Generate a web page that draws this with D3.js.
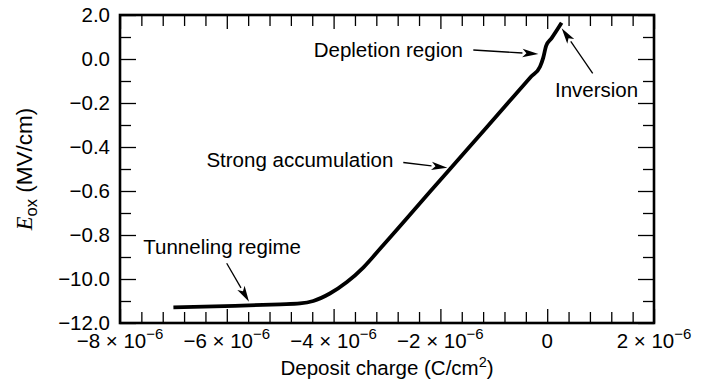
<!DOCTYPE html>
<html>
<head>
<meta charset="utf-8">
<script src="https://cdn.jsdelivr.net/npm/d3@7"></script>
<style>
  body { margin: 0; background: #fff; }
  svg { display: block; }
  text { font-family: "Liberation Sans", Arial, Helvetica, sans-serif; fill: #000; }
</style>
</head>
<body>
<svg id="chart" width="702" height="391"></svg>
<script>
// Oxide field versus deposited corona charge
const depositCharge = [-7.0, -5.85, -5.0, -4.63, -4.38, -4.07, -3.75, -3.44, -3.13, -2.82, -2.2, -1.45, -0.7, -0.3, -0.135, -0.075, -0.02, 0.08, 0.27].map(v => v * 1e-6);
const oxideField    = [-11.29, -11.22, -11.15, -11.11, -11.0, -10.66, -10.14, -9.47, -8.63, -7.77, -6.05, -3.98, -1.9, -0.8, -0.35, 0.05, 0.6, 0.94, 1.65];

// Axis ticks and their printed labels
const yTickValues = [2, 0, -2, -4, -6, -8, -10, -12];
const yTickLabels = ["2.0", "0.0", "\u22120.2", "\u22120.4", "\u22120.6", "\u22120.8", "\u221210.0", "\u221212.0"];
const xTickValues = [-8e-6, -6e-6, -4e-6, -2e-6, 0, 2e-6];
const xTickMantissa = ["\u22128", "\u22126", "\u22124", "\u22122", "0", "2"];
const xTickExponent = ["\u22126", "\u22126", "\u22126", "\u22126", "", "\u22126"];

// Annotations: label anchor, arrow tail and arrow tip in data units
const noteText   = ["Tunneling regime", "Strong accumulation", "Depletion region", "Inversion"];
const noteAnchor = ["start", "end", "end", "start"];
const noteLabelX = [-7.564e-6, -2.882e-6, -1.577e-6, 0.146e-6];
const noteLabelY = [-8.864, -4.895, 0.091, -1.727];
const noteTailX  = [-6.002e-6, -2.695e-6, -1.384e-6, 0.852e-6];
const noteTailY  = [-9.286, -4.705, 0.409, -0.65];
const noteTipX   = [-5.584e-6, -1.869e-6, -0.165e-6, 0.271e-6];
const noteTipY   = [-11.03, -4.94, 0.227, 1.395];

const svg = d3.select("#chart");
const plot = { left: 120, right: 654, top: 15, bottom: 323 };

const x = d3.scaleLinear().domain([-8e-6, 2e-6]).range([plot.left, plot.right]);
const y = d3.scaleLinear().domain([-12, 2]).range([plot.bottom, plot.top]);

const xMinor = d3.range(-8, 2.001, 0.4).map(v => +(v * 1e-6).toPrecision(6))
  .filter(v => !xTickValues.some(m => Math.abs(m - v) < 1e-9));
const yMinor = d3.range(-11, 2, 2);

function styleTicks(g) {
  g.select(".domain").remove();
  g.selectAll(".tick line").attr("stroke", "#000").attr("stroke-width", 1.3);
  g.selectAll(".tick text").remove();
}

// Ticks on all four sides, pointing inward
svg.append("g").attr("transform", `translate(0,${plot.bottom})`)
  .call(d3.axisBottom(x).tickValues(xTickValues).tickSize(-14)).call(styleTicks);
svg.append("g").attr("transform", `translate(0,${plot.bottom})`)
  .call(d3.axisBottom(x).tickValues(xMinor).tickSize(-11)).call(styleTicks);
svg.append("g").attr("transform", `translate(0,${plot.top})`)
  .call(d3.axisTop(x).tickValues(xTickValues).tickSize(-14)).call(styleTicks);
svg.append("g").attr("transform", `translate(0,${plot.top})`)
  .call(d3.axisTop(x).tickValues(xMinor).tickSize(-11)).call(styleTicks);
svg.append("g").attr("transform", `translate(${plot.left},0)`)
  .call(d3.axisLeft(y).tickValues(yTickValues).tickSize(-16)).call(styleTicks);
svg.append("g").attr("transform", `translate(${plot.left},0)`)
  .call(d3.axisLeft(y).tickValues(yMinor).tickSize(-11)).call(styleTicks);
svg.append("g").attr("transform", `translate(${plot.right},0)`)
  .call(d3.axisRight(y).tickValues(yTickValues).tickSize(-16)).call(styleTicks);
svg.append("g").attr("transform", `translate(${plot.right},0)`)
  .call(d3.axisRight(y).tickValues(yMinor).tickSize(-11)).call(styleTicks);

// Frame
svg.append("rect")
  .attr("x", plot.left).attr("y", plot.top)
  .attr("width", plot.right - plot.left).attr("height", plot.bottom - plot.top)
  .attr("fill", "none").attr("stroke", "#000").attr("stroke-width", 2.6);

// Y tick labels
svg.append("g").selectAll("text")
  .data(yTickValues)
  .join("text")
  .attr("x", plot.left - 10)
  .attr("y", d => y(d))
  .attr("dy", "0.36em")
  .attr("text-anchor", "end")
  .attr("font-size", 20.5)
  .text((d, i) => yTickLabels[i]);

// X tick labels with power-of-ten notation
const xLab = svg.append("g").selectAll("text")
  .data(xTickValues)
  .join("text")
  .attr("x", d => x(d))
  .attr("y", 348)
  .attr("text-anchor", "middle")
  .attr("font-size", 20.5);
xLab.each(function(d, i) {
  const t = d3.select(this);
  if (xTickExponent[i] === "") {
    t.text(xTickMantissa[i]);
  } else {
    t.append("tspan").text(xTickMantissa[i] + " \u00d7 10");
    t.append("tspan").attr("font-size", 15).attr("dy", -9).text(xTickExponent[i]);
  }
});

// Axis titles
const xTitle = svg.append("text")
  .attr("x", (plot.left + plot.right) / 2)
  .attr("y", 375)
  .attr("text-anchor", "middle")
  .attr("font-size", 20.5);
xTitle.append("tspan").text("Deposit charge (C/cm");
xTitle.append("tspan").attr("font-size", 14.5).attr("dy", -8).text("2");
xTitle.append("tspan").attr("dy", 8).text(")");

const yTitle = svg.append("text")
  .attr("transform", `translate(32,${(plot.top + plot.bottom) / 2}) rotate(-90)`)
  .attr("text-anchor", "middle")
  .attr("font-size", 22.5);
yTitle.append("tspan")
  .style("font-family", "'Liberation Serif', 'Times New Roman', serif")
  .attr("font-style", "italic")
  .text("E");
yTitle.append("tspan").attr("font-size", 16.5).attr("dy", 5).text("ox");
yTitle.append("tspan").attr("dy", -5).text(" (MV/cm)");

// Field curve
const line = d3.line()
  .x((d, i) => x(depositCharge[i]))
  .y((d, i) => y(oxideField[i]))
  .curve(d3.curveMonotoneX);

svg.append("path")
  .datum(oxideField)
  .attr("d", line)
  .attr("fill", "none")
  .attr("stroke", "#000")
  .attr("stroke-width", 3.8)
  .attr("stroke-linejoin", "round");

// Annotations with arrows
const notes = svg.append("g");
noteText.forEach((label, i) => {
  notes.append("text")
    .attr("x", x(noteLabelX[i]))
    .attr("y", y(noteLabelY[i]))
    .attr("text-anchor", noteAnchor[i])
    .attr("font-size", 20.5)
    .text(label);

  const x0 = x(noteTailX[i]), y0 = y(noteTailY[i]);
  const x1 = x(noteTipX[i]), y1 = y(noteTipY[i]);
  const ang = Math.atan2(y1 - y0, x1 - x0);
  const headLen = 16, headHalf = 4.2;
  const bx = x1 - headLen * Math.cos(ang), by = y1 - headLen * Math.sin(ang);
  notes.append("line")
    .attr("x1", x0).attr("y1", y0)
    .attr("x2", bx).attr("y2", by)
    .attr("stroke", "#000").attr("stroke-width", 1.3);
  const px = -Math.sin(ang) * headHalf, py = Math.cos(ang) * headHalf;
  notes.append("path")
    .attr("d", `M${x1},${y1}L${bx + px},${by + py}L${bx + 0.25 * headLen * Math.cos(ang)},${by + 0.25 * headLen * Math.sin(ang)}L${bx - px},${by - py}Z`)
    .attr("fill", "#000");
});
</script>
</body>
</html>
